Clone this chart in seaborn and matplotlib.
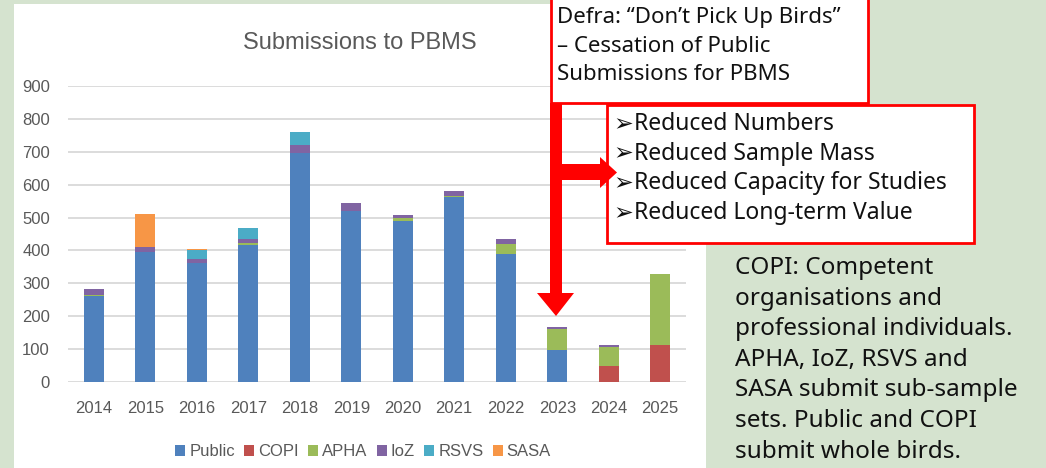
import pandas as pd
import matplotlib.pyplot as plt
import seaborn as sns
from matplotlib import font_manager
from matplotlib.patches import Rectangle, Polygon, Patch

years = ["2014", "2015", "2016", "2017", "2018", "2019", "2020", "2021", "2022", "2023", "2024", "2025"]
public = [260, 395, 362, 417, 695, 521, 490, 563, 389, 96, 0, 0]
copi = [0, 0, 0, 0, 0, 0, 0, 0, 0, 0, 48, 112]
apha = [4, 0, 0, 5, 0, 0, 10, 4, 32, 65, 57, 216]
ioz = [19, 15, 12, 13, 27, 22, 7, 15, 14, 6, 7, 0]
rsvs = [0, 0, 26, 34, 39, 0, 0, 0, 0, 0, 0, 0]
sasa = [0, 101, 3, 0, 0, 0, 0, 0, 0, 0, 0, 0]

sources = ["Public", "COPI", "APHA", "IoZ", "RSVS", "SASA"]
colors = ["#4f81bd", "#c0504d", "#9bbb59", "#8064a2", "#4bacc6", "#f79646"]

rows = []
for s, vals in zip(sources, [public, copi, apha, ioz, rsvs, sasa]):
    for y, v in zip(years, vals):
        rows.append({"year": y, "source": s, "value": v})
df = pd.DataFrame(rows)
df["source"] = pd.Categorical(df["source"], sources, ordered=True)
df = df.sort_values(["year", "source"])
df["cum"] = df.groupby("year")["value"].cumsum()

installed = {f.name for f in font_manager.fontManager.ttflist}
CHART_FONT = "Liberation Sans Narrow" if "Liberation Sans Narrow" in installed else "Liberation Sans"

sns.set_theme(style="white")
plt.rcParams["font.family"] = [CHART_FONT, "DejaVu Sans"]

BG = "#d5e3cf"
GREY = "#595959"

fig = plt.figure(figsize=(10.46, 4.68), dpi=100, facecolor=BG)

# white chart panel
fig.patches.append(Rectangle((14 / 1046, 0), (706 - 14) / 1046, 1 - 4 / 468,
                             transform=fig.transFigure, facecolor="white",
                             edgecolor="none", zorder=-5))

ax = fig.add_axes([68 / 1046, 1 - 382 / 468, (686 - 68) / 1046, (382 - 86) / 468])
ax.set_facecolor("none")

# stacked bars: draw cumulative totals from the top series down
for s, c in reversed(list(zip(sources, colors))):
    sub = df[df["source"] == s]
    sns.barplot(data=sub, x="year", y="cum", color=c, saturation=1,
                width=0.39, ax=ax, order=years, zorder=3, linewidth=0)

ax.set_ylim(0, 900)
ax.set_yticks(range(0, 901, 100))
ax.yaxis.grid(True, color="#d9d9d9", linewidth=1.3, zorder=0)
ax.set_axisbelow(True)
for sp in ax.spines.values():
    sp.set_visible(False)
ax.set_xlabel("")
ax.set_ylabel("")
ax.tick_params(axis="both", length=0, labelsize=12, labelcolor=GREY)
ax.tick_params(axis="y", pad=13)
ax.tick_params(axis="x", pad=14)

fig.text(360 / 1046, 1 - 43 / 468, "Submissions to PBMS", ha="center", va="center",
         fontsize=17, color=GREY)

handles = [Patch(facecolor=c, edgecolor="none", label=s) for s, c in zip(sources, colors)]
leg = fig.legend(handles=handles, loc="center", bbox_to_anchor=(363 / 1046, 1 - 452 / 468),
                 ncol=6, frameon=False, fontsize=12, handlelength=0.6, handleheight=0.6,
                 handletextpad=0.25, columnspacing=0.55)
for t in leg.get_texts():
    t.set_color(GREY)

# annotation layer in pixel coordinates
ov = fig.add_axes([0, 0, 1, 1])
ov.set_xlim(0, 1046)
ov.set_ylim(468, 0)
ov.axis("off")
ov.set_facecolor("none")

RED = "#ff0000"
NOTE_FONT = ["Noto Sans", "DejaVu Sans"]

ov.add_patch(Rectangle((551, -3), 868 - 551, 106, facecolor="white", edgecolor=RED, linewidth=2))
defra = ["Defra: \u201cDon\u2019t Pick Up Birds\u201d", "\u2013 Cessation of Public", "Submissions for PBMS"]
for i, line in enumerate(defra):
    ov.text(557, 17 + i * 29, line, ha="left", va="center",
            fontsize=16, family=NOTE_FONT, color="#111111")

ov.add_patch(Rectangle((607, 105), 974 - 607, 243 - 105, facecolor="white", edgecolor=RED, linewidth=2))
bullets = ["Reduced Numbers", "Reduced Sample Mass", "Reduced Capacity for Studies", "Reduced Long-term Value"]
for i, b in enumerate(bullets):
    yy = 124 + i * 29.7
    ov.text(613, yy, "\u27a2", ha="left", va="center", fontsize=17,
            family=["DejaVu Sans"], color="#111111")
    ov.text(634, yy, b, ha="left", va="center", fontsize=16.5,
            family=NOTE_FONT, color="#111111")

# red arrows
ov.add_patch(Rectangle((550, 103), 12, 193, facecolor=RED, edgecolor="none"))
ov.add_patch(Polygon([(537, 293), (574, 293), (556, 316)], facecolor=RED, edgecolor="none"))
ov.add_patch(Rectangle((556, 164), 46, 16, facecolor=RED, edgecolor="none"))
ov.add_patch(Polygon([(600, 157), (600, 188), (617, 172.5)], facecolor=RED, edgecolor="none"))

side = ["COPI: Competent", "organisations and", "professional individuals.", "APHA, IoZ, RSVS and",
        "SASA submit sub-sample", "sets. Public and COPI", "submit whole birds."]
for i, line in enumerate(side):
    ov.text(735, 268 + i * 30.6, line, ha="left", va="center", fontsize=17.5,
            family=NOTE_FONT, color="#111111")

fig.savefig("out.png", dpi=100, facecolor=BG)
